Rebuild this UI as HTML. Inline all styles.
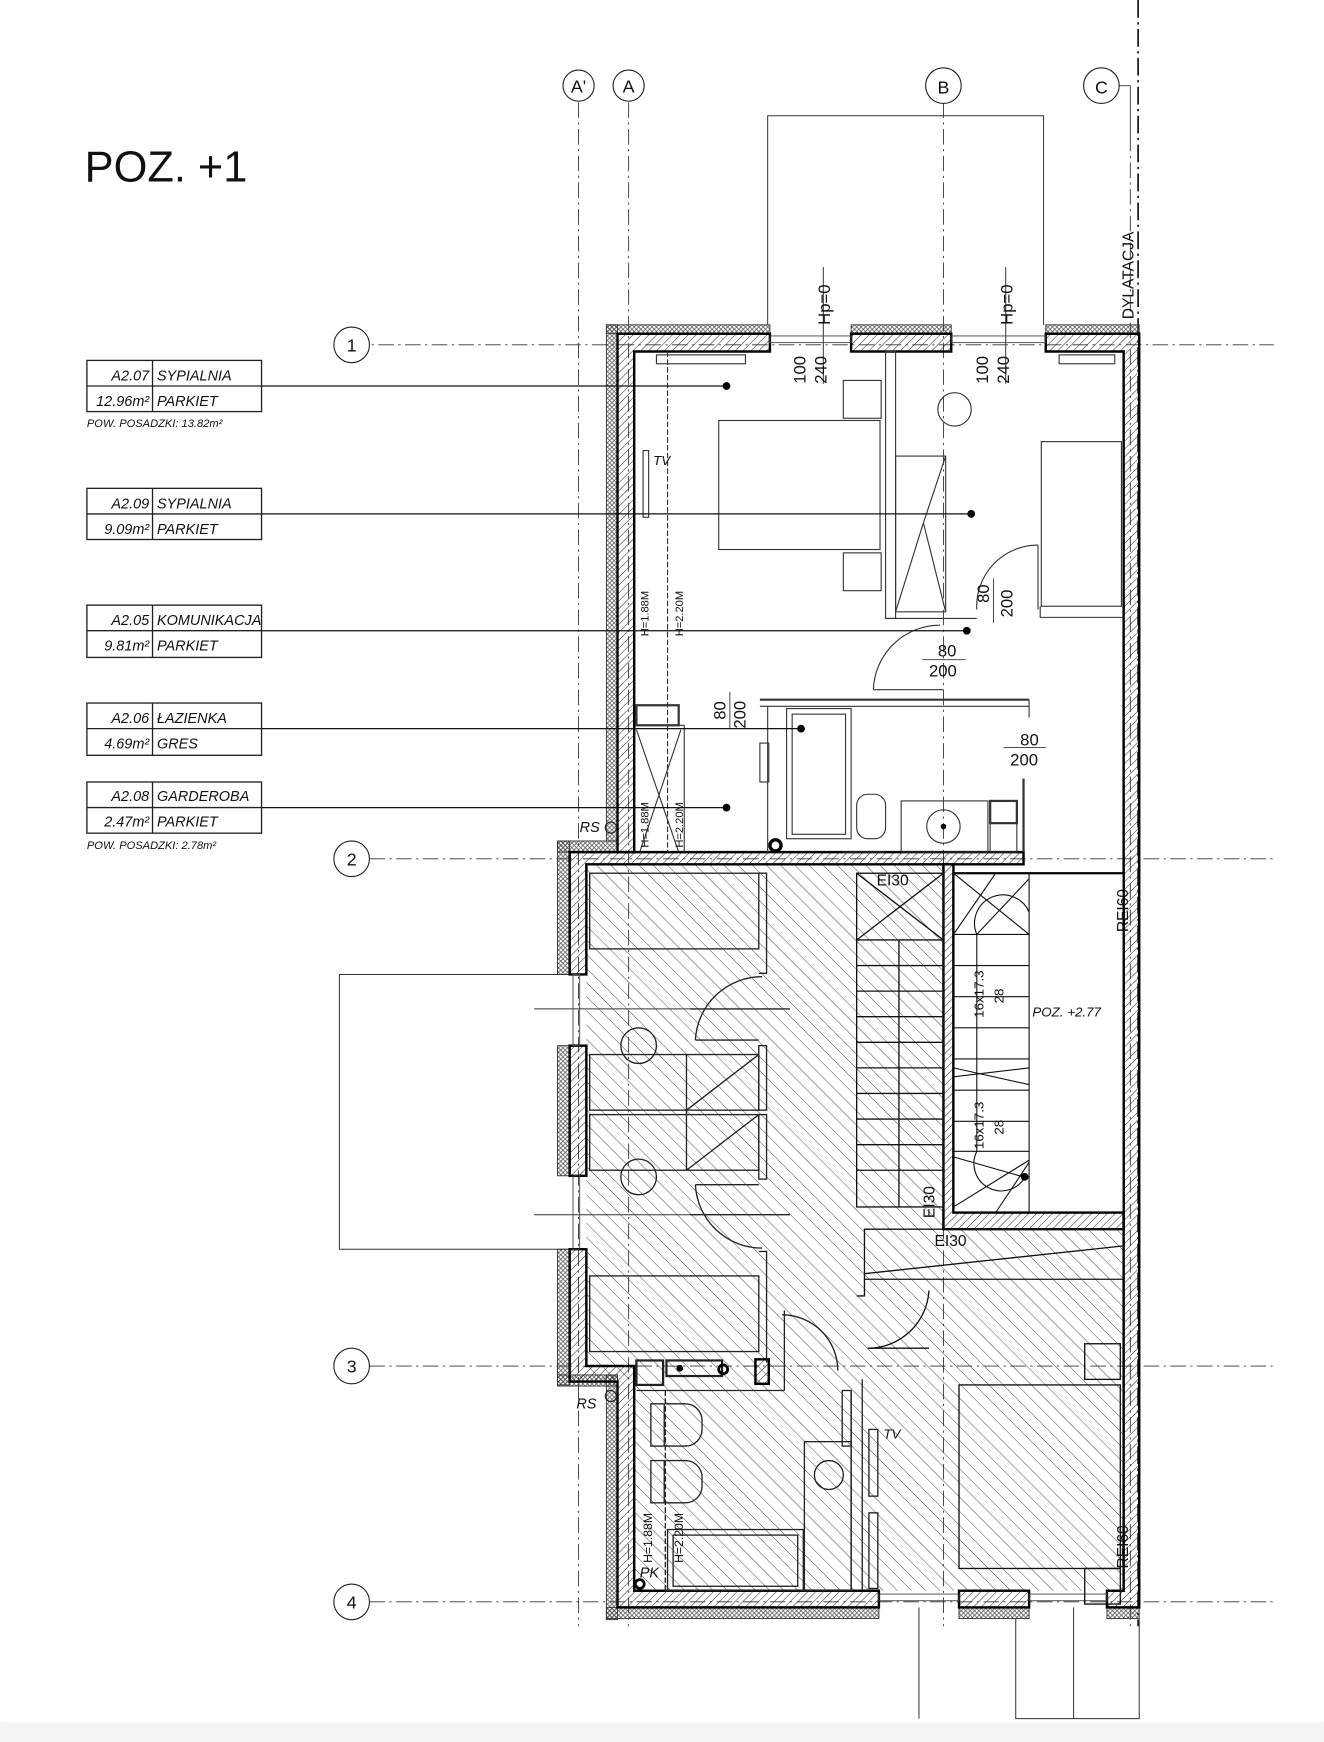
<!DOCTYPE html>
<html><head><meta charset="utf-8"><style>
html,body{margin:0;padding:0;background:#fff;}
svg{display:block;}
text{font-family:"Liberation Sans",sans-serif;fill:#111;}
.i{font-style:italic;}
</style></head><body>
<svg width="1324" height="1742" viewBox="0 0 1190 1566" xmlns="http://www.w3.org/2000/svg">
<defs>
<pattern id="fh" width="9" height="9" patternUnits="userSpaceOnUse" patternTransform="rotate(-45)">
<line x1="0" y1="0" x2="0" y2="9" stroke="#333" stroke-width="0.8"/>
</pattern>
<pattern id="wh" width="5" height="5" patternUnits="userSpaceOnUse" patternTransform="rotate(45)">
<line x1="0" y1="0" x2="0" y2="5" stroke="#222" stroke-width="0.9"/>
</pattern>
<pattern id="ins" width="4" height="4" patternUnits="userSpaceOnUse">
<path d="M0 0L4 4M4 0L0 4" stroke="#444" stroke-width="0.6"/>
</pattern>
</defs>
<rect width="1190" height="1566" fill="#fff"/>
<rect y="1548" width="1190" height="18" fill="#f4f4f4"/>

<text x="76" y="163" font-size="39">POZ. +1</text>

<g stroke="#333" stroke-width="0.8" stroke-dasharray="14,4,2,4" fill="none">
<line x1="520" y1="92" x2="520" y2="1462"/>
<line x1="565" y1="92" x2="565" y2="1462"/>
<line x1="848" y1="92" x2="848" y2="1462"/>
<line x1="1016" y1="122" x2="1016" y2="1462"/>
<line x1="316" y1="310" x2="1145" y2="310"/>
<line x1="332" y1="772" x2="1145" y2="772"/>
<line x1="332" y1="1228" x2="1145" y2="1228"/>
<line x1="332" y1="1440" x2="1145" y2="1440"/>
</g>
<line x1="1023" y1="0" x2="1023" y2="1462" stroke="#111" stroke-width="1.5" stroke-dasharray="16,4,2,4"/>
<polyline points="1004,77 1016,77 1016,122" fill="none" stroke="#333" stroke-width="0.8"/>
<g fill="#fff" stroke="#222" stroke-width="1">
<circle cx="520" cy="77" r="14"/><circle cx="565" cy="77" r="14"/><circle cx="848" cy="77" r="16"/><circle cx="990" cy="77" r="16"/>
<circle cx="316" cy="310" r="16"/><circle cx="316" cy="772" r="16"/><circle cx="316" cy="1228" r="16"/><circle cx="316" cy="1440" r="16"/>
</g>
<g font-size="16" text-anchor="middle">
<text x="520" y="83">A'</text><text x="565" y="83">A</text><text x="848" y="84">B</text><text x="990" y="84">C</text>
<text x="316" y="316">1</text><text x="316" y="778">2</text><text x="316" y="1234">3</text><text x="316" y="1446">4</text>
</g>
<text transform="translate(1019,287) rotate(-90)" font-size="14">DYLATACJA</text>

<g fill="none" stroke="#333" stroke-width="0.9">
<polyline points="690,292 690,104 938,104 938,292"/>
<polyline points="513,876 305,876 305,1123 513,1123"/>
<polyline points="913,1455 913,1545 1024,1545 1024,1455"/>
<line x1="826" y1="1445" x2="826" y2="1545"/><line x1="965" y1="1445" x2="965" y2="1545"/>
<line x1="740" y1="240" x2="740" y2="345"/><line x1="904" y1="240" x2="904" y2="345"/>
<line x1="480" y1="907" x2="620" y2="907"/><line x1="480" y1="1092" x2="620" y2="1092"/>
</g>

<path d="M527,777 L848,777 L848,1105 L1010,1105 L1010,1430 L570,1430 L570,1240 L527,1240 Z" fill="url(#fh)"/>

<g fill="url(#ins)" stroke="#333" stroke-width="0.8">
<rect x="545" y="292" width="147" height="8"/>
<rect x="765" y="292" width="90" height="8"/>
<rect x="940" y="292" width="84" height="8"/>
<rect x="545" y="292" width="10" height="464"/>
<rect x="501" y="756" width="54" height="10"/>
<rect x="501" y="756" width="11" height="120"/>
<rect x="501" y="940" width="11" height="117"/>
<rect x="501" y="1123" width="11" height="122"/>
<rect x="501" y="1236" width="54" height="10"/>
<rect x="545" y="1236" width="10" height="220"/>
<rect x="545" y="1445" width="245" height="10"/>
<rect x="862" y="1445" width="63" height="10"/>
<rect x="995" y="1445" width="29" height="10"/>
</g>
<g fill="url(#wh)" stroke="#000" stroke-width="2.2">
<path d="M555,300 L692,300 L692,316 L570,316 L570,766 L555,766 Z"/>
<rect x="765" y="300" width="90" height="16"/>
<path d="M940,300 L1024,300 L1024,1445 L995,1445 L995,1430 L1010,1430 L1010,316 L940,316 Z"/>
<path d="M512,766 L920,766 L920,777 L527,777 L527,876 L512,876 Z"/>
<rect x="512" y="940" width="15" height="117"/>
<path d="M512,1123 L527,1123 L527,1228 L570,1228 L570,1430 L790,1430 L790,1445 L555,1445 L555,1242 L512,1242 Z"/>
<rect x="862" y="1430" width="63" height="15"/>
<path d="M848,777 L857,777 L857,1090 L1010,1090 L1010,1105 L848,1105 Z"/>
<rect x="679" y="1222" width="12" height="22"/>
</g>
<g fill="none" stroke="#444" stroke-width="0.8">
<rect x="692" y="302" width="73" height="6"/><rect x="855" y="302" width="85" height="6"/>
<rect x="790" y="1433" width="72" height="6"/><rect x="925" y="1433" width="70" height="6"/>
<rect x="515" y="876" width="6" height="64"/><rect x="515" y="1057" width="6" height="66"/>
</g>

<rect x="857" y="785" width="153" height="305" fill="#fff"/>
<rect x="857" y="785" width="153" height="305" fill="none" stroke="#000" stroke-width="2"/>
<g stroke="#111" stroke-width="1" fill="none">
<line x1="925" y1="785" x2="925" y2="1090"/>
<line x1="878" y1="840" x2="878" y2="1035"/>
<path d="M878,840 A22,22 0 0 1 925,820"/><path d="M878,1035 A22,22 0 0 0 922,1057"/>
<line x1="857" y1="785" x2="925" y2="840"/><line x1="895" y1="785" x2="857" y2="840"/><line x1="925" y1="790" x2="878" y2="840"/>
<line x1="857" y1="960" x2="925" y2="975"/><line x1="857" y1="968" x2="925" y2="960"/>
<line x1="857" y1="1085" x2="925" y2="1043"/><line x1="895" y1="1090" x2="925" y2="1045"/><line x1="857" y1="1040" x2="920" y2="1058"/>
<line x1="857" y1="840" x2="925" y2="840"/>
<line x1="857" y1="868" x2="925" y2="868"/><line x1="857" y1="896" x2="925" y2="896"/><line x1="857" y1="924" x2="925" y2="924"/><line x1="857" y1="952" x2="925" y2="952"/>
<line x1="857" y1="980" x2="925" y2="980"/><line x1="857" y1="1008" x2="925" y2="1008"/><line x1="857" y1="1035" x2="925" y2="1035"/>
</g>
<circle cx="921" cy="1058" r="3.5" fill="#000"/>
<text class="i" x="928" y="914" font-size="12">POZ. +2.77</text>
<text transform="translate(884,915) rotate(-90)" font-size="12">16x17.3</text>
<text transform="translate(902,902) rotate(-90)" font-size="12">28</text>
<text transform="translate(884,1033) rotate(-90)" font-size="12">16x17.3</text>
<text transform="translate(902,1020) rotate(-90)" font-size="12">28</text>

<g stroke="#111" stroke-width="1.2" fill="none">
<rect x="770" y="785" width="78" height="300"/>
<line x1="770" y1="845" x2="848" y2="845"/>
<line x1="770" y1="785" x2="848" y2="845"/><line x1="848" y1="785" x2="770" y2="845"/>
<line x1="808" y1="845" x2="808" y2="1085"/>
</g>
<g stroke="#111" stroke-width="1.2">
<line x1="770" y1="868" x2="848" y2="868"/><line x1="770" y1="891" x2="848" y2="891"/><line x1="770" y1="914" x2="848" y2="914"/>
<line x1="770" y1="937" x2="848" y2="937"/><line x1="770" y1="960" x2="848" y2="960"/><line x1="770" y1="983" x2="848" y2="983"/>
<line x1="770" y1="1006" x2="848" y2="1006"/><line x1="770" y1="1029" x2="848" y2="1029"/><line x1="770" y1="1052" x2="848" y2="1052"/>
</g>
<text x="788" y="796" font-size="14">EI30</text>
<text transform="translate(840,1095) rotate(-90)" font-size="14">EI30</text>
<text x="840" y="1120" font-size="14">EI30</text>
<text transform="translate(1014,838) rotate(-90)" font-size="14">REI60</text>
<text transform="translate(1014,1410) rotate(-90)" font-size="14">REI60</text>

<g stroke="#111" stroke-width="1.2" fill="none">
<polyline points="770,1165 777,1165 777,1105 1010,1105"/>
<line x1="777" y1="1145" x2="1010" y2="1120"/>
<line x1="777" y1="1150" x2="1010" y2="1150"/>
<path d="M780,1212 A55,55 0 0 0 835,1160"/>
<line x1="780" y1="1212" x2="835" y2="1212"/>
<rect x="862" y="1245" width="145" height="165"/>
<rect x="975" y="1208" width="32" height="32"/><rect x="975" y="1410" width="32" height="32"/>
</g>

<g stroke="#222" stroke-width="1.2" fill="none">
<rect x="530" y="785" width="152" height="68"/>
<polyline points="682,785 689,785 689,875 682,875"/>
<rect x="530" y="1147" width="152" height="68"/>
<polyline points="682,1125 689,1125 689,1225"/>
<rect x="530" y="948" width="152" height="50"/><rect x="530" y="1002" width="152" height="50"/>
<line x1="617" y1="948" x2="617" y2="1052"/>
<rect x="682" y="940" width="7" height="58"/><rect x="682" y="1002" width="7" height="58"/>
<line x1="617" y1="998" x2="682" y2="948"/><line x1="617" y1="1052" x2="682" y2="1002"/>
<path d="M625,935 A60,60 0 0 1 685,878"/><line x1="625" y1="935" x2="682" y2="935"/>
<path d="M625,1065 A60,60 0 0 0 685,1122"/><line x1="625" y1="1065" x2="682" y2="1065"/>
<line x1="620" y1="907" x2="710" y2="907"/><line x1="620" y1="1092" x2="710" y2="1092"/>
<circle cx="574" cy="940" r="16"/><circle cx="574" cy="1058" r="16"/>
</g>

<g stroke="#222" stroke-width="1.2" fill="none">
<rect x="572" y="1223" width="24" height="22" stroke-width="2"/>
<rect x="599" y="1223" width="50" height="14" stroke-width="2"/>
<line x1="572" y1="1250" x2="705" y2="1250"/>
<line x1="598" y1="1250" x2="598" y2="1430" stroke-dasharray="5,2"/>
<rect x="585" y="1262" width="12" height="38"/><rect x="585" y="1313" width="12" height="38"/>
<path d="M598,1262 h18 a15,15 0 0 1 15,15 v8 a15,15 0 0 1 -15,15 h-18"/>
<path d="M598,1313 h18 a15,15 0 0 1 15,15 v8 a15,15 0 0 1 -15,15 h-18"/>
<rect x="600" y="1375" width="122" height="55"/><rect x="605" y="1380" width="112" height="46"/>
<rect x="723" y="1296" width="42" height="134"/>
<circle cx="745" cy="1326" r="13"/>
<polyline points="705,1178 705,1250"/>
<path d="M703,1182 A50,50 0 0 1 753,1232"/>
<line x1="765" y1="1250" x2="765" y2="1430"/>
<line x1="775" y1="1240" x2="775" y2="1430"/>
<rect x="757" y="1250" width="8" height="50"/>
<rect x="781" y="1285" width="8" height="60"/><rect x="781" y="1360" width="8" height="68"/>
</g>
<circle cx="611" cy="1230" r="3" fill="#000"/><circle cx="575" cy="1424" r="4" fill="none" stroke="#000" stroke-width="2.5"/>
<circle cx="650" cy="1231" r="4" fill="none" stroke="#000" stroke-width="2.5"/>
<text class="i" x="794" y="1293" font-size="12">TV</text>
<text class="i" x="575" y="1418" font-size="13">PK</text>
<text class="i" x="518" y="1266" font-size="13">RS</text>
<text class="i" x="521" y="748" font-size="13">RS</text>
<circle cx="549" cy="744" r="5" fill="none" stroke="#222"/><circle cx="549" cy="1255" r="5" fill="none" stroke="#222"/>
<text transform="translate(586,1405) rotate(-90)" font-size="11">H=1.88M</text>
<text transform="translate(614,1405) rotate(-90)" font-size="11">H=2.20M</text>

<g stroke="#333" stroke-width="1" fill="none">
<line x1="600" y1="316" x2="600" y2="766" stroke-dasharray="5,2"/>
<rect x="590" y="319" width="80" height="8"/><rect x="952" y="319" width="50" height="8"/>
<rect x="578" y="405" width="5" height="60"/>
<rect x="758" y="342" width="34" height="34"/><rect x="758" y="497" width="34" height="34"/>
<rect x="646" y="378" width="145" height="116"/>
<rect x="796" y="316" width="9" height="240"/>
<polyline points="796,556 878,556"/>
<rect x="805" y="410" width="45" height="140"/>
<line x1="805" y1="550" x2="830" y2="470"/><line x1="830" y1="470" x2="850" y2="410"/><line x1="830" y1="470" x2="850" y2="550"/>
<circle cx="858" cy="368" r="15"/>
<rect x="936" y="397" width="72" height="148"/>
<polyline points="935,545 935,555 1010,555"/>
<path d="M878,548 A55,55 0 0 1 933,490"/><line x1="933" y1="490" x2="933" y2="548"/>
<path d="M785,620 A60,60 0 0 1 845,562"/><line x1="785" y1="620" x2="848" y2="620"/>
<line x1="683" y1="629" x2="925" y2="629" stroke-width="2"/><line x1="683" y1="635" x2="925" y2="635"/>
<line x1="925" y1="629" x2="925" y2="645"/>
<rect x="707" y="637" width="58" height="117"/><rect x="712" y="642" width="48" height="108"/>
<line x1="690" y1="635" x2="690" y2="766"/>
<rect x="683" y="668" width="8" height="35"/>
<rect x="770" y="714" width="26" height="40" rx="10"/>
<rect x="810" y="720" width="78" height="46"/><circle cx="848" cy="743" r="15"/>
<rect x="890" y="720" width="24" height="20" stroke-width="2"/><rect x="890" y="740" width="24" height="26"/>
<line x1="920" y1="700" x2="920" y2="766" stroke-width="2"/>
<rect x="572" y="634" width="38" height="18" stroke-width="2"/>
<line x1="572" y1="652" x2="615" y2="652"/><line x1="615" y1="652" x2="615" y2="766"/>
<line x1="572" y1="656" x2="610" y2="766"/><line x1="612" y1="656" x2="575" y2="766"/>
<line x1="757" y1="766" x2="795" y2="766"/>
</g>
<circle cx="848" cy="743" r="2.5" fill="#000"/><circle cx="697" cy="760" r="5" fill="none" stroke="#000" stroke-width="3"/>
<text class="i" x="587" y="418" font-size="12">TV</text>
<text transform="translate(583,572) rotate(-90)" font-size="10">H=1.88M</text>
<text transform="translate(614,572) rotate(-90)" font-size="10">H=2.20M</text>
<text transform="translate(583,762) rotate(-90)" font-size="10">H=1.88M</text>
<text transform="translate(614,762) rotate(-90)" font-size="10">H=2.20M</text>

<g font-size="15">
<text transform="translate(746,292) rotate(-90)">Hp=0</text>
<text transform="translate(910,292) rotate(-90)">Hp=0</text>
<text transform="translate(724,345) rotate(-90)">100</text>
<text transform="translate(743,345) rotate(-90)">240</text>
<text transform="translate(888,345) rotate(-90)">100</text>
<text transform="translate(907,345) rotate(-90)">240</text>
<text transform="translate(889,542) rotate(-90)">80</text>
<text transform="translate(910,555) rotate(-90)">200</text>
<text transform="translate(652,647) rotate(-90)">80</text>
<text transform="translate(670,655) rotate(-90)">200</text>
<text x="843" y="590">80</text><text x="835" y="608">200</text>
<text x="917" y="670">80</text><text x="908" y="688">200</text>
</g>
<g stroke="#333" stroke-width="0.8">
<line x1="829" y1="593" x2="868" y2="593"/><line x1="902" y1="672" x2="940" y2="672"/>
<line x1="893" y1="520" x2="893" y2="560"/><line x1="656" y1="622" x2="656" y2="655"/>
</g>

<g fill="none" stroke="#222" stroke-width="1.2">
<rect x="78" y="324" width="157" height="46"/><line x1="78" y1="347" x2="235" y2="347"/><line x1="137" y1="324" x2="137" y2="370"/>
<rect x="78" y="439" width="157" height="46"/><line x1="78" y1="462" x2="235" y2="462"/><line x1="137" y1="439" x2="137" y2="485"/>
<rect x="78" y="544" width="157" height="47"/><line x1="78" y1="567" x2="235" y2="567"/><line x1="137" y1="544" x2="137" y2="591"/>
<rect x="78" y="632" width="157" height="47"/><line x1="78" y1="655" x2="235" y2="655"/><line x1="137" y1="632" x2="137" y2="679"/>
<rect x="78" y="703" width="157" height="46"/><line x1="78" y1="726" x2="235" y2="726"/><line x1="137" y1="703" x2="137" y2="749"/>
</g>
<g stroke="#111" stroke-width="1.1">
<line x1="235" y1="347" x2="653" y2="347"/><line x1="235" y1="462" x2="873" y2="462"/>
<line x1="235" y1="567" x2="869" y2="567"/><line x1="235" y1="655" x2="720" y2="655"/>
<line x1="235" y1="726" x2="653" y2="726"/>
</g>
<g fill="#000">
<circle cx="653" cy="347" r="3.5"/><circle cx="873" cy="462" r="3.5"/><circle cx="869" cy="567" r="3.5"/><circle cx="720" cy="655" r="3.5"/><circle cx="653" cy="726" r="3.5"/>
</g>
<g font-size="13">
<text x="134" y="342" text-anchor="end" class="i">A2.07</text><text x="141" y="342" class="i">SYPIALNIA</text>
<text x="134" y="365" text-anchor="end" class="i">12.96m²</text><text x="141" y="365" class="i">PARKIET</text>
<text x="78" y="384" font-size="10" class="i">POW. POSADZKI: 13.82m²</text>
<text x="134" y="457" text-anchor="end" class="i">A2.09</text><text x="141" y="457" class="i">SYPIALNIA</text>
<text x="134" y="480" text-anchor="end" class="i">9.09m²</text><text x="141" y="480" class="i">PARKIET</text>
<text x="134" y="562" text-anchor="end" class="i">A2.05</text><text x="141" y="562" class="i">KOMUNIKACJA</text>
<text x="134" y="585" text-anchor="end" class="i">9.81m²</text><text x="141" y="585" class="i">PARKIET</text>
<text x="134" y="650" text-anchor="end" class="i">A2.06</text><text x="141" y="650" class="i">ŁAZIENKA</text>
<text x="134" y="673" text-anchor="end" class="i">4.69m²</text><text x="141" y="673" class="i">GRES</text>
<text x="134" y="720" text-anchor="end" class="i">A2.08</text><text x="141" y="720" class="i">GARDEROBA</text>
<text x="134" y="743" text-anchor="end" class="i">2.47m²</text><text x="141" y="743" class="i">PARKIET</text>
<text x="78" y="763" font-size="10" class="i">POW. POSADZKI: 2.78m²</text>
</g>
</svg>
</body></html>
